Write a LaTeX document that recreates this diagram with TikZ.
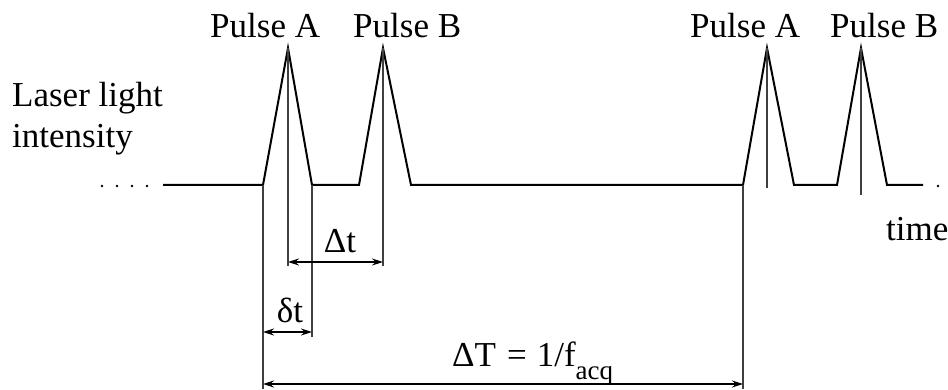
\documentclass[tikz,border=0pt]{standalone}
\usepackage{fontspec}
\setmainfont{Liberation Serif}
\usetikzlibrary{arrows.meta}
\tikzset{
  wave/.style={line width=2pt, line join=miter},
  guide/.style={line width=1.2pt, black!75},
  dim/.style={line width=1.2pt, {Stealth[length=11pt,width=7pt]}-{Stealth[length=11pt,width=7pt]}},
  lbl/.style={inner sep=0pt, anchor=base west, font=\fontsize{35}{41}\selectfont},
  clbl/.style={inner sep=0pt, anchor=base, font=\fontsize{35}{41}\selectfont},
  dotmark/.style={fill=black, circle, inner sep=0pt, minimum size=2.6pt}
}
\begin{document}
\begin{tikzpicture}[x=1pt,y=-1pt]
\useasboundingbox (0,0) rectangle (948,390);
% waveform points
\coordinate (s)  at (163,185);
\coordinate (a1) at (263,185); \coordinate (pa) at (288,48); \coordinate (a2) at (312,185);
\coordinate (b1) at (359,185); \coordinate (pb) at (383,48); \coordinate (b2) at (411,185);
\coordinate (c1) at (743,185); \coordinate (pc) at (767,48); \coordinate (c2) at (794,185);
\coordinate (d1) at (837,185); \coordinate (pd) at (861,48); \coordinate (d2) at (887,185);
\coordinate (e)  at (923,185);
\draw[wave] (s) -- (a1) -- (pa) -- (a2) -- (b1) -- (pb) -- (b2) -- (c1) -- (pc) -- (c2) -- (d1) -- (pd) -- (d2) -- (e);
% dots
\foreach \i/\x in {1/102,2/117,3/132,4/147} { \node[dotmark] (dl\i) at (\x,186) {}; }
\node[dotmark] (dr) at (938,186) {};
% guide lines
\coordinate (ga) at (263,389);
\coordinate (gpa) at (288,266);
\coordinate (ga2) at (312,337);
\coordinate (gpb) at (383,266);
\coordinate (gpc) at (767,188);
\coordinate (gpd) at (861,195);
\coordinate (gc) at (743,389);
\draw[guide] (a1) -- (ga);
\draw[guide] (pa) -- (gpa);
\draw[guide] (a2) -- (ga2);
\draw[guide] (pb) -- (gpb);
\draw[guide] (pc) -- (gpc);
\draw[guide] (pd) -- (gpd);
\draw[guide] (c1) -- (gc);
% dimension arrows
\coordinate (dt1) at (288,262); \coordinate (dt2) at (383,262);
\coordinate (st1) at (263,332); \coordinate (st2) at (312,332);
\coordinate (T1) at (263,384); \coordinate (T2) at (743,384);
\draw[dim] (dt1) -- (dt2);
\draw[dim] (st1) -- (st2);
\draw[dim] (T1) -- (T2);
% labels
\node[lbl] (pA1) at (210,38) {Pulse A};
\node[lbl] (pB1) at (353,38) {Pulse B};
\node[lbl] (pA2) at (690,38) {Pulse A};
\node[lbl] (pB2) at (830,38) {Pulse B};
\node[lbl] (las) at (12,107) {Laser light};
\node[lbl] (int) at (12,148) {intensity};
\node[lbl] (time) at (886,241) {time};
\node[clbl] (Dt) at (340,253) {Δt};
\node[clbl] (dt) at (290,322) {δt};
\node[lbl] (DT) at (452,366) {ΔT\hspace{11pt}=\hspace{10pt}1/f\raisebox{-13pt}{\fontsize{27}{27}\selectfont acq}};
\end{tikzpicture}
\end{document}
